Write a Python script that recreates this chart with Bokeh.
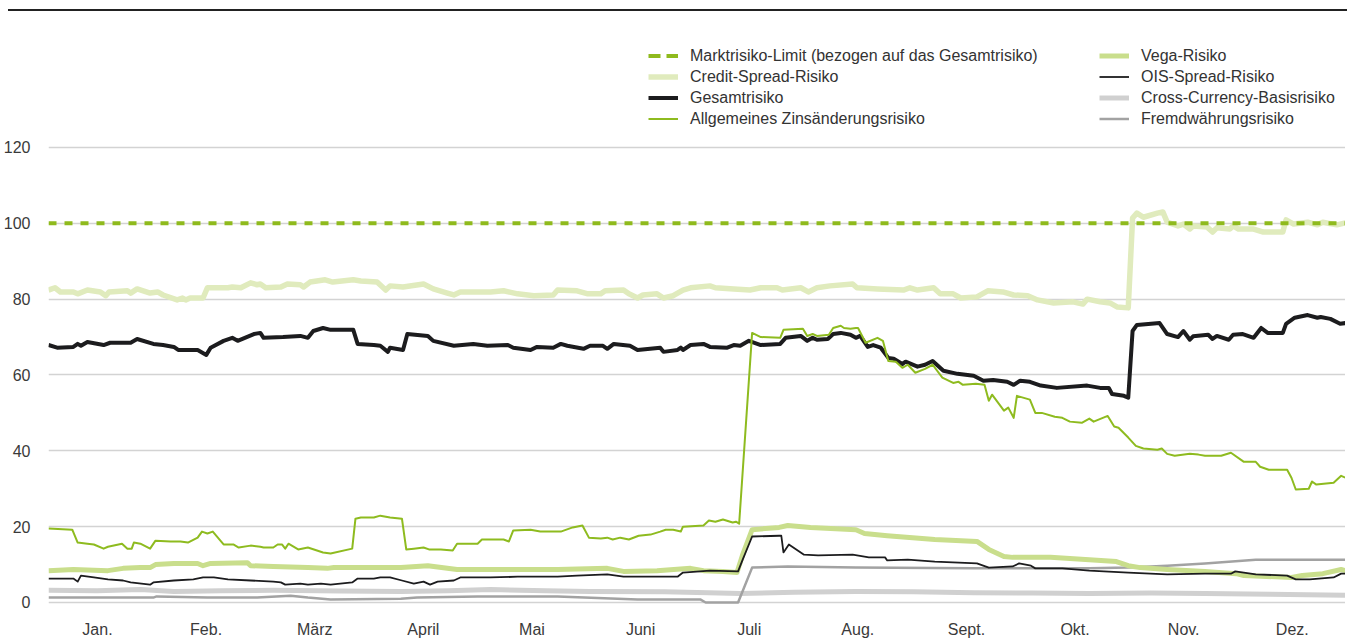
from bokeh.plotting import figure
from bokeh.models import Range1d, FixedTicker, Legend, LegendItem, Div
from bokeh.layouts import column
from bokeh.embed import file_html
from bokeh.resources import INLINE

# ---------------- data (x in months: 0 = 1 Jan, 12 = 31 Dec) ----------------
months = ["Jan.", "Feb.", "März", "April", "Mai", "Juni",
          "Juli", "Aug.", "Sept.", "Okt.", "Nov.", "Dez."]
y_ticks = [0, 20, 40, 60, 80, 100, 120]

limit_x = [0.0, 12.0]
limit_y = [100, 100]

gesamt_x = [0.00, 0.08, 0.23, 0.27, 0.30, 0.36, 0.51, 0.57, 0.76, 0.82, 0.97, 1.06, 1.16, 1.20, 1.38,
            1.46, 1.50, 1.62, 1.70, 1.75, 1.90, 1.96, 1.99, 2.17, 2.33, 2.40, 2.45, 2.54, 2.61, 2.82,
            2.86, 3.01, 3.07, 3.14, 3.16, 3.28, 3.32, 3.51, 3.56, 3.75, 3.93, 4.06, 4.25, 4.30, 4.46,
            4.52, 4.67, 4.74, 4.80, 4.95, 5.01, 5.13, 5.17, 5.23, 5.38, 5.45, 5.66, 5.69, 5.82, 5.85,
            5.87, 5.94, 6.06, 6.12, 6.28, 6.34, 6.40, 6.48, 6.59, 6.77, 6.82, 6.96, 7.02, 7.07, 7.11,
            7.21, 7.26, 7.33, 7.42, 7.47, 7.51, 7.58, 7.63, 7.70, 7.77, 7.82, 7.90, 7.93, 8.04, 8.11,
            8.18, 8.28, 8.41, 8.56, 8.65, 8.74, 8.87, 8.93, 8.99, 9.08, 9.18, 9.33, 9.61, 9.73, 9.81,
            9.84, 9.95, 9.99, 10.03, 10.07, 10.28, 10.35, 10.45, 10.50, 10.56, 10.59, 10.73, 10.77,
            10.81, 10.92, 10.96, 11.05, 11.15, 11.22, 11.28, 11.42, 11.45, 11.53, 11.65, 11.74, 11.77,
            11.86, 11.95, 12.00]
gesamt_y = [67.9, 67.2, 67.4, 68.2, 67.7, 68.7, 67.9, 68.5, 68.5, 69.5, 68.2, 67.9, 67.4, 66.6, 66.6,
            65.3, 67.2, 69.0, 69.8, 69.0, 70.8, 71.1, 69.8, 70.0, 70.3, 69.8, 71.6, 72.4, 71.9, 71.9,
            68.2, 67.9, 67.7, 66.1, 67.2, 66.6, 70.8, 70.3, 69.0, 67.7, 68.2, 67.7, 67.9, 67.2, 66.6,
            67.4, 67.2, 68.2, 67.7, 66.9, 67.7, 67.7, 66.9, 68.2, 67.7, 66.6, 67.2, 66.1, 66.6, 67.2,
            66.6, 67.9, 68.2, 67.4, 67.2, 67.9, 67.7, 69.0, 67.9, 68.2, 69.8, 70.3, 69.0, 69.8, 69.3,
            69.5, 70.8, 71.1, 70.6, 69.8, 70.3, 67.4, 67.9, 67.2, 64.5, 64.3, 62.9, 63.5, 62.2, 62.7,
            63.7, 61.1, 60.3, 59.8, 58.5, 58.7, 58.2, 57.4, 58.5, 58.2, 57.2, 56.6, 57.2, 56.6, 56.6,
            55.0, 54.5, 54.0, 71.6, 73.2, 73.7, 70.8, 70.0, 71.6, 69.3, 70.2, 70.6, 69.5,
            70.3, 69.3, 70.6, 70.8, 69.8, 72.4, 71.1, 71.1, 73.5, 75.1, 75.8, 75.1, 75.3,
            74.8, 73.5, 73.7]

credit_x = [0.00, 0.06, 0.11, 0.23, 0.27, 0.36, 0.48, 0.53, 0.56, 0.73, 0.76, 0.82, 0.94, 1.01, 1.06,
            1.19, 1.24, 1.27, 1.31, 1.43, 1.47, 1.66, 1.70, 1.78, 1.87, 1.93, 1.96, 2.01, 2.15, 2.21,
            2.33, 2.36, 2.42, 2.56, 2.63, 2.82, 2.89, 3.04, 3.12, 3.16, 3.28, 3.47, 3.56, 3.69, 3.75,
            3.81, 4.09, 4.21, 4.34, 4.49, 4.67, 4.71, 4.89, 4.99, 5.11, 5.15, 5.32, 5.37, 5.45, 5.50,
            5.63, 5.69, 5.78, 5.87, 5.94, 6.12, 6.17, 6.34, 6.49, 6.59, 6.74, 6.79, 6.96, 7.03, 7.11,
            7.23, 7.44, 7.48, 7.67, 7.91, 7.97, 8.04, 8.19, 8.25, 8.37, 8.44, 8.59, 8.69, 8.83, 8.93,
            9.06, 9.15, 9.30, 9.48, 9.57, 9.61, 9.73, 9.82, 9.89, 9.99, 10.03, 10.07, 10.13, 10.26,
            10.31, 10.35, 10.45, 10.50, 10.56, 10.59, 10.72, 10.77, 10.81, 10.93, 10.96, 11.01, 11.15,
            11.24, 11.42, 11.45, 11.52, 11.65, 11.74, 11.79, 11.92, 12.00]
credit_y = [82.4, 83.0, 81.9, 81.9, 81.4, 82.4, 81.9, 80.9, 81.9, 82.2, 81.6, 82.7, 81.6, 81.9, 81.1,
            79.8, 80.3, 79.8, 80.3, 80.3, 83.0, 83.0, 83.2, 83.0, 84.3, 83.8, 84.0, 83.0, 83.2, 84.0,
            83.8, 83.2, 84.5, 85.1, 84.5, 85.1, 84.8, 84.5, 82.4, 83.5, 83.2, 84.0, 82.7, 81.6, 81.1,
            81.9, 81.9, 82.2, 81.4, 80.9, 81.1, 82.4, 82.2, 81.4, 81.4, 82.2, 82.4, 81.4, 80.3, 81.1,
            81.4, 80.3, 80.9, 82.4, 83.0, 83.5, 83.0, 82.7, 82.4, 83.0, 83.0, 82.4, 83.0, 81.9, 83.0,
            83.5, 84.0, 83.0, 82.7, 82.4, 83.0, 82.4, 83.0, 81.4, 81.4, 80.3, 80.6, 82.2, 81.9, 81.1,
            80.9, 79.8, 79.0, 79.3, 78.7, 80.0, 79.3, 79.0, 77.9, 77.7, 101.4, 102.7, 101.6, 102.7,
            103.0, 100.3, 99.3, 99.8, 98.5, 99.3, 99.0, 97.7, 98.8, 98.5, 99.3, 98.5, 98.5,
            97.7, 97.7, 100.9, 99.8, 100.3, 99.6, 100.3, 99.6, 100.1]

zins_x = [0.00, 0.22, 0.27, 0.36, 0.42, 0.51, 0.55, 0.68, 0.73, 0.77, 0.79, 0.85, 0.94, 0.99, 1.13,
          1.22, 1.29, 1.38, 1.42, 1.47, 1.52, 1.62, 1.71, 1.76, 1.87, 1.96, 1.99, 2.08, 2.12, 2.16,
          2.19, 2.22, 2.31, 2.40, 2.54, 2.61, 2.81, 2.84, 2.89, 3.01, 3.07, 3.16, 3.27, 3.31, 3.38,
          3.47, 3.52, 3.63, 3.74, 3.78, 3.97, 4.01, 4.21, 4.26, 4.30, 4.46, 4.55, 4.74, 4.85, 4.94,
          5.00, 5.11, 5.17, 5.22, 5.29, 5.37, 5.46, 5.57, 5.66, 5.71, 5.78, 5.85, 5.87, 6.06, 6.11,
          6.17, 6.24, 6.33, 6.36, 6.39, 6.51, 6.59, 6.77, 6.80, 6.98, 7.02, 7.07, 7.11, 7.22, 7.26,
          7.33, 7.36, 7.42, 7.47, 7.49, 7.56, 7.67, 7.72, 7.77, 7.84, 7.90, 7.95, 8.02, 8.11, 8.18,
          8.27, 8.37, 8.42, 8.46, 8.58, 8.66, 8.70, 8.73, 8.84, 8.88, 8.93, 8.96, 9.08, 9.13, 9.19,
          9.31, 9.38, 9.45, 9.56, 9.63, 9.67, 9.80, 9.86, 9.90, 9.99, 10.06, 10.13, 10.26, 10.30,
          10.35, 10.42, 10.56, 10.64, 10.70, 10.85, 10.94, 11.06, 11.17, 11.21, 11.29, 11.46, 11.50,
          11.54, 11.66, 11.69, 11.73, 11.89, 11.96, 12.00]
zins_y = [19.5, 19.2, 15.8, 15.5, 15.3, 14.2, 14.7, 15.5, 14.2, 14.2, 15.8, 15.5, 14.2, 16.3, 16.1,
          16.1, 15.8, 17.1, 18.7, 18.2, 18.7, 15.3, 15.3, 14.5, 15.0, 14.7, 14.5, 14.5, 15.3, 15.3,
          14.2, 15.5, 14.0, 14.5, 13.2, 12.9, 14.2, 22.1, 22.4, 22.4, 22.9, 22.4, 22.1, 14.0, 14.2,
          14.5, 14.0, 14.0, 13.7, 15.5, 15.5, 16.6, 16.6, 16.1, 19.0, 19.2, 18.7, 18.7, 19.8, 20.3,
          17.1, 16.9, 17.1, 16.6, 17.1, 16.6, 17.6, 17.9, 18.7, 19.2, 19.2, 18.7, 20.0, 20.3, 21.6,
          21.3, 21.9, 21.1, 21.3, 20.8, 71.1, 70.0, 69.8, 71.9, 72.2, 70.3, 70.8, 70.3, 70.6, 72.4,
          73.0, 72.4, 72.2, 72.4, 72.4, 68.5, 69.8, 69.0, 63.7, 63.5, 61.9, 62.7, 60.6, 61.6, 62.7,
          59.3, 57.9, 58.2, 57.4, 57.7, 57.4, 53.2, 54.8, 50.6, 51.4, 48.7, 54.5, 53.5, 50.0, 50.0,
          49.0, 48.7, 47.7, 47.4, 48.5, 47.7, 49.2, 46.4, 46.1, 43.5, 41.3, 40.6, 40.3, 40.6,
          39.2, 38.7, 39.2, 39.0, 38.7, 38.7, 39.5, 37.1, 37.1, 35.8, 35.0, 35.0, 32.9,
          29.8, 30.0, 31.9, 31.1, 31.6, 33.4, 32.9]

vega_x = [0.00, 0.23, 0.55, 0.69, 0.85, 0.94, 0.99, 1.16, 1.38, 1.43, 1.50, 1.84, 1.87, 2.08, 2.40,
          2.58, 2.64, 3.01, 3.26, 3.51, 3.78, 4.09, 4.39, 4.71, 5.17, 5.32, 5.63, 5.94, 6.06, 6.24,
          6.37, 6.42, 6.51, 6.76, 6.84, 7.05, 7.47, 7.55, 7.76, 8.20, 8.59, 8.70, 8.84, 8.92, 9.27,
          9.63, 9.88, 9.99, 10.10, 10.35, 10.70, 10.99, 11.06, 11.50, 11.60, 11.79, 11.96, 12.00]
vega_y = [8.4, 8.7, 8.4, 9.0, 9.2, 9.2, 10.0, 10.3, 10.3, 9.7, 10.3, 10.5, 9.7, 9.5, 9.2,
          9.0, 9.2, 9.2, 9.2, 9.7, 8.7, 8.7, 8.7, 8.7, 9.0, 8.2, 8.4, 9.0, 8.4, 8.2,
          7.9, 12.4, 19.2, 19.8, 20.3, 19.8, 19.2, 18.2, 17.6, 16.6, 16.1, 14.0, 12.1, 11.9, 11.9,
          11.3, 10.8, 9.7, 9.2, 8.7, 8.2, 7.6, 7.1, 6.6, 7.1, 7.6, 8.7, 8.4]

ois_x = [0.00, 0.23, 0.27, 0.30, 0.42, 0.55, 0.69, 0.76, 0.94, 0.97, 1.16, 1.34, 1.43, 1.53, 1.66,
         1.87, 2.08, 2.15, 2.19, 2.33, 2.40, 2.52, 2.61, 2.81, 2.86, 3.01, 3.07, 3.16, 3.27, 3.38,
         3.47, 3.53, 3.60, 3.75, 3.81, 4.09, 4.34, 4.71, 4.89, 5.17, 5.32, 5.82, 5.87, 6.12, 6.38,
         6.42, 6.51, 6.76, 6.78, 6.80, 6.85, 6.99, 7.12, 7.44, 7.59, 7.74, 7.76, 7.95, 8.20, 8.59,
         8.70, 8.92, 8.98, 9.09, 9.13, 9.38, 9.63, 9.99, 10.35, 10.70, 10.94, 10.98, 11.17, 11.46,
         11.54, 11.67, 11.89, 11.96, 12.00]
ois_y = [6.3, 6.3, 5.5, 7.1, 6.6, 6.1, 5.8, 5.3, 4.7, 5.3, 5.8, 6.1, 6.6, 6.6, 6.1,
         5.8, 5.5, 5.3, 4.7, 5.0, 4.7, 5.0, 4.7, 5.3, 6.3, 6.3, 6.6, 6.6, 5.8, 5.0,
         5.5, 4.7, 5.5, 5.8, 6.6, 6.6, 6.8, 6.8, 7.1, 7.4, 6.8, 6.8, 7.9, 8.4, 8.2,
         11.1, 17.4, 17.6, 17.6, 13.2, 15.3, 12.6, 12.4, 12.6, 11.9, 11.9, 11.1, 11.3, 10.8, 10.3,
         9.2, 9.5, 10.3, 9.7, 9.0, 9.0, 8.4, 7.9, 7.4, 7.6, 7.6, 8.2, 7.4, 7.1,
         6.1, 6.1, 6.6, 7.6, 7.6]

cc_x = [0.00, 0.45, 0.85, 1.16, 1.60, 2.08, 2.70, 3.26, 3.70, 4.09, 4.60, 5.01, 5.70, 6.40, 6.90,
        7.47, 8.00, 8.56, 9.10, 9.63, 10.20, 10.70, 11.30, 12.00]
cc_y = [3.2, 3.1, 3.4, 2.9, 3.1, 3.2, 3.0, 2.9, 3.1, 3.4, 3.1, 2.9, 2.8, 2.4, 2.7,
        2.9, 2.8, 2.6, 2.5, 2.4, 2.5, 2.4, 2.2, 1.9]

fx_x = [0.00, 0.55, 0.97, 1.00, 1.47, 1.93, 2.24, 2.40, 2.61, 3.26, 3.41, 3.97, 4.71, 5.45, 6.03,
        6.08, 6.38, 6.51, 6.84, 7.47, 8.56, 9.63, 9.99, 10.35, 10.70, 11.17, 11.42, 12.00]
fx_y = [1.3, 1.3, 1.3, 1.6, 1.3, 1.3, 1.8, 1.3, 0.8, 1.0, 1.3, 1.6, 1.6, 0.8, 0.8,
        0.0, 0.0, 9.2, 9.5, 9.2, 9.0, 9.0, 9.2, 9.7, 10.3, 11.3, 11.3, 11.3]

labels_left = ["Marktrisiko-Limit (bezogen auf das Gesamtrisiko)", "Credit-Spread-Risiko",
               "Gesamtrisiko", "Allgemeines Zinsänderungsrisiko"]
labels_right = ["Vega-Risiko", "OIS-Spread-Risiko", "Cross-Currency-Basisrisiko", "Fremdwährungsrisiko"]

# ---------------- styling ----------------
C_LIMIT = "#8fba1d"
C_CREDIT = "#e0ebbd"
C_BLACK = "#1c1c1e"
C_ZINS = "#8ebb1f"
C_VEGA = "#c9de8c"
C_CC = "#d0d0d0"
C_FX = "#a2a2a2"
FONT = "Liberation Sans"

p = figure(frame_width=1297, frame_height=592, output_backend="svg", toolbar_location=None,
           x_range=Range1d(0, 12), y_range=Range1d(-0.53, 155.6),
           min_border_left=48, min_border_right=0, min_border_top=1, min_border_bottom=0,
           margin=(0, 0, 0, 0))
p.outline_line_color = None
p.background_fill_color = "white"
p.border_fill_color = "white"

p.xgrid.grid_line_color = None
p.ygrid.ticker = FixedTicker(ticks=y_ticks)
p.ygrid.grid_line_color = "#d3d3d3"
p.ygrid.grid_line_width = 1.5

p.yaxis.ticker = FixedTicker(ticks=y_ticks)
p.yaxis.axis_line_color = None
p.yaxis.major_tick_line_color = None
p.yaxis.minor_tick_line_color = None
p.yaxis.major_label_standoff = 12
p.yaxis.major_label_text_font = FONT
p.yaxis.major_label_text_font_size = "16px"
p.yaxis.major_label_text_color = "#3a3a3a"

tick_pos = [round(0.453 + 1.005 * i, 3) for i in range(12)]
p.xaxis.ticker = FixedTicker(ticks=tick_pos)
p.xaxis.major_label_overrides = {t: m for t, m in zip(tick_pos, months)}
p.xaxis.axis_line_color = None
p.xaxis.major_tick_line_color = None
p.xaxis.minor_tick_line_color = None
p.xaxis.major_label_standoff = 10
p.xaxis.major_label_text_font = FONT
p.xaxis.major_label_text_font_size = "16px"
p.xaxis.major_label_text_color = "#3a3a3a"

r_cc = p.line(cc_x, cc_y, line_color=C_CC, line_width=5, line_join="round")
r_fx = p.line(fx_x, fx_y, line_color=C_FX, line_width=2.5, line_join="round")
r_vega = p.line(vega_x, vega_y, line_color=C_VEGA, line_width=5, line_join="round")
r_credit = p.line(credit_x, credit_y, line_color=C_CREDIT, line_width=5.5, line_join="round")
r_ois = p.line(ois_x, ois_y, line_color=C_BLACK, line_width=1.8, line_join="round")
r_gesamt = p.line(gesamt_x, gesamt_y, line_color=C_BLACK, line_width=4, line_join="round")
r_zins = p.line(zins_x, zins_y, line_color=C_ZINS, line_width=2, line_join="round")
r_limit = p.line(limit_x, limit_y, line_color=C_LIMIT, line_width=4, line_dash="8 8")
# legend-only swatch for the dashed limit line (placed outside the visible range)
r_limit_leg = p.line(x=[-5, -4], y=[-50, -50], line_color=C_LIMIT, line_width=4, line_dash="12 6")


def make_legend(items, x, y):
    return Legend(items=items, location=(x, y), orientation="vertical",
                  padding=0, margin=0, spacing=0, glyph_width=30, glyph_height=21,
                  label_height=21, label_standoff=12,
                  label_text_font=FONT, label_text_font_size="16px", label_text_color="#333333",
                  border_line_alpha=0, background_fill_alpha=0)


leg1 = make_legend([LegendItem(label=labels_left[0], renderers=[r_limit_leg]),
                    LegendItem(label=labels_left[1], renderers=[r_credit]),
                    LegendItem(label=labels_left[2], renderers=[r_gesamt]),
                    LegendItem(label=labels_left[3], renderers=[r_zins])], 600, 475)
leg2 = make_legend([LegendItem(label=labels_right[0], renderers=[r_vega]),
                    LegendItem(label=labels_right[1], renderers=[r_ois]),
                    LegendItem(label=labels_right[2], renderers=[r_cc]),
                    LegendItem(label=labels_right[3], renderers=[r_fx])], 1051, 475)
p.add_layout(leg1)
p.add_layout(leg2)

top_rule = Div(text="", width=1339, height=2, margin=(9, 0, 0, 8),
               styles={"background-color": "#222222"})
layout = column(top_rule, p, spacing=0)

open("out.html", "w").write(file_html(layout, INLINE))
